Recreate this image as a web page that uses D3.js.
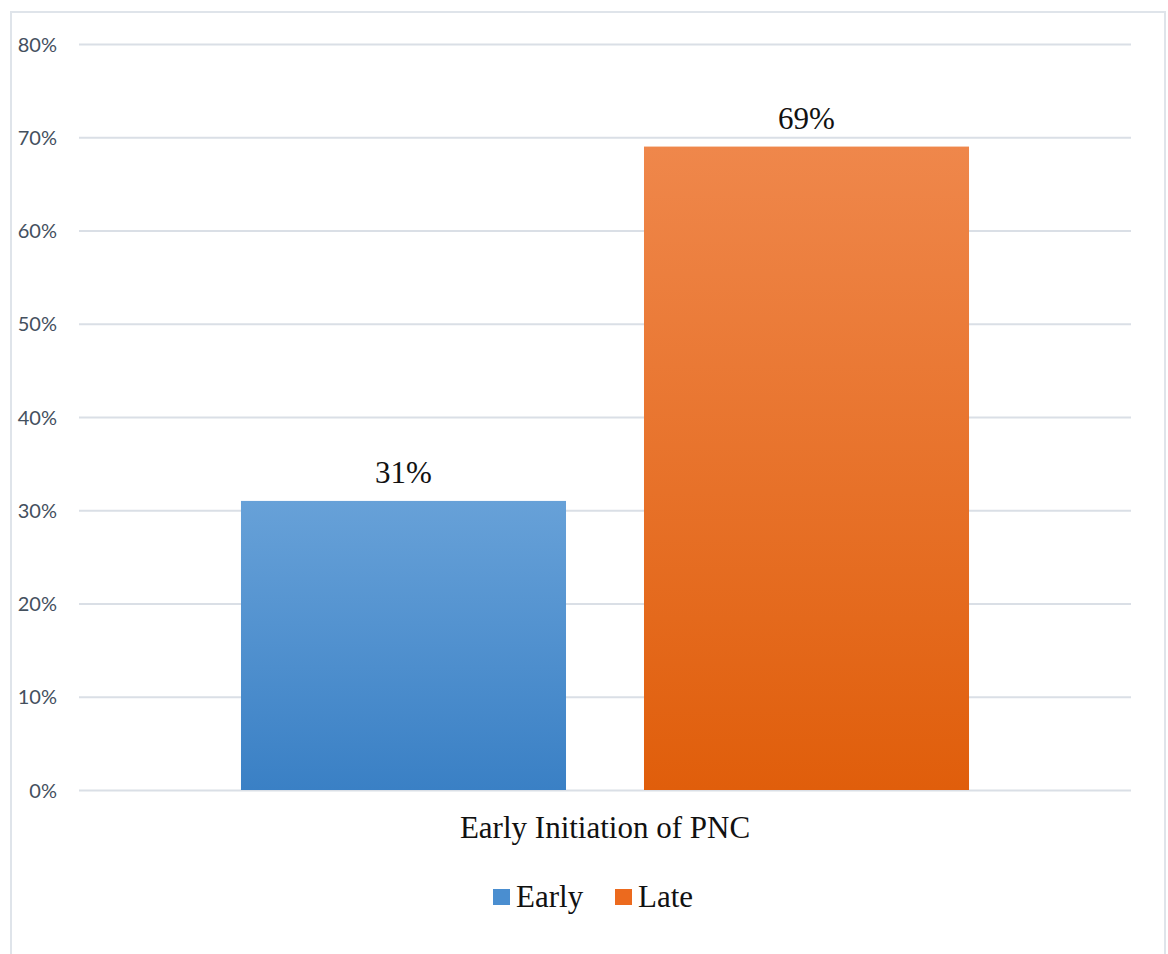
<!DOCTYPE html>
<html>
<head>
<meta charset="utf-8">
<script src="https://cdn.jsdelivr.net/npm/d3@7"></script>
<style>
  html, body { margin: 0; padding: 0; background: #fff; }
</style>
</head>
<body>
<svg id="chart" width="1168" height="954"></svg>
<script>
// Chart data
const category = "Early Initiation of PNC";
const seriesNames = ["Early", "Late"];
const seriesValues = [0.31, 0.69];
const valueLabels = ["31%", "69%"];
const yTicks = [0, 0.1, 0.2, 0.3, 0.4, 0.5, 0.6, 0.7, 0.8];
const gradientStops = [
  ["#67a1d8", "#3a80c5"],
  ["#ef874b", "#e05e0b"]
];
const swatchColors = ["#4a8ed0", "#ec6a1e"];

const SERIF = "Liberation Serif";
const SANS = "Lato";

const svg = d3.select("#chart");

// outer chart frame
svg.append("rect")
  .attr("x", 11).attr("y", 12)
  .attr("width", 1154).attr("height", 960)
  .attr("fill", "#fff")
  .attr("stroke", "#dfe4ea").attr("stroke-width", 2);

const plot = { left: 79, right: 1131, top: 44, bottom: 790 };

const y = d3.scaleLinear().domain([0, 0.8]).range([plot.bottom, plot.top]);
const x0 = d3.scaleBand().domain([category]).range([plot.left, plot.right]).paddingInner(0).paddingOuter(0.2225);
const x1 = d3.scaleBand().domain(seriesNames).range([0, x0.bandwidth()]).paddingInner(0.1935).paddingOuter(0);

// serif labels: category, values, legend
function serifText(sel, size) {
  return sel
    .attr("font-family", SERIF)
    .attr("font-size", size)
    .style("font-family", `"${SERIF}"`);
}

// category label
serifText(svg.append("text"), 31)
  .attr("x", x0(category) + x0.bandwidth() / 2)
  .attr("y", 838)
  .attr("text-anchor", "middle")
  .attr("fill", "#111")
  .text(category);

// gradients
const defs = svg.append("defs");
seriesNames.forEach((s, i) => {
  const g = defs.append("linearGradient")
    .attr("id", "grad" + i)
    .attr("x1", 0).attr("y1", 0).attr("x2", 0).attr("y2", 1);
  g.append("stop").attr("offset", "0%").attr("stop-color", gradientStops[i][0]);
  g.append("stop").attr("offset", "100%").attr("stop-color", gradientStops[i][1]);
});

// gridlines + y labels
const yAxis = d3.axisLeft(y)
  .tickValues(yTicks)
  .tickSize(-(plot.right - plot.left))
  .tickPadding(0)
  .tickFormat(d3.format(".0%"));

const gAxis = svg.append("g")
  .attr("transform", `translate(${plot.left},0)`)
  .call(yAxis)
  .attr("font-family", SANS)
  .attr("font-size", 20);
gAxis.select(".domain").remove();
gAxis.selectAll(".tick line")
  .attr("stroke", "#dadfe6").attr("stroke-width", 2);
gAxis.selectAll(".tick text")
  .attr("x", -22)
  .attr("text-anchor", "end")
  .attr("dy", "0.35em")
  .attr("fill", "#44505e");

// bars
const data = seriesNames.map((s, i) => ({ name: s, value: seriesValues[i], label: valueLabels[i], i }));
const gBars = svg.append("g").attr("transform", `translate(${x0(category)},0)`);

gBars.selectAll("rect.bar")
  .data(data)
  .join("rect")
  .attr("class", "bar")
  .attr("x", d => x1(d.name))
  .attr("y", d => y(d.value))
  .attr("width", x1.bandwidth())
  .attr("height", d => y(0) - y(d.value))
  .attr("fill", d => `url(#grad${d.i})`);

serifText(gBars.selectAll("text.val")
  .data(data)
  .join("text"), 31)
  .attr("class", "val")
  .attr("x", d => x1(d.name) + x1.bandwidth() / 2)
  .attr("y", d => y(d.value) - 18)
  .attr("text-anchor", "middle")
  .attr("fill", "#111")
  .text(d => d.label);

// legend
const legend = svg.append("g");
const legendItems = [
  { name: seriesNames[0], color: swatchColors[0], x: 493 },
  { name: seriesNames[1], color: swatchColors[1], x: 615 }
];
legendItems.forEach(it => {
  legend.append("rect")
    .attr("x", it.x).attr("y", 889)
    .attr("width", 17).attr("height", 16)
    .attr("fill", it.color);
  serifText(legend.append("text"), 31)
    .attr("x", it.x + 23)
    .attr("y", 907)
    .attr("fill", "#111")
    .text(it.name);
});
</script>
</body>
</html>
